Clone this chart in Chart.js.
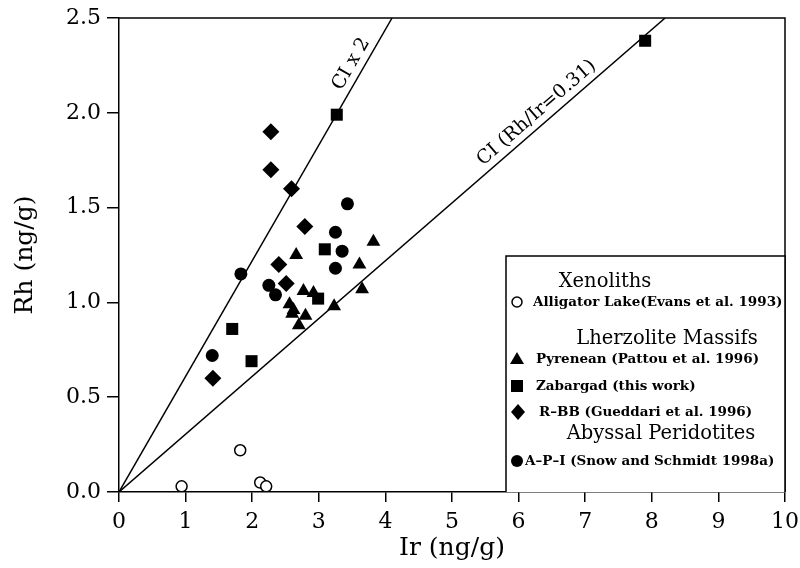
<!DOCTYPE html>
<html>
<head>
<meta charset="utf-8">
<script src="https://cdn.jsdelivr.net/npm/chart.js@4/dist/chart.umd.min.js"></script>
<style>
html,body{margin:0;padding:0;background:#fff;}
#wrap{width:800px;height:568px;position:relative;}
</style>
</head>
<body>
<div id="wrap"><canvas id="c" width="800" height="568"></canvas></div>
<script>
// ---- data (Ir, Rh in ng/g) ----
const alligatorLake = [[0.94,0.03],[1.82,0.22],[2.12,0.05],[2.21,0.03]];
const pyrenean = [[2.66,1.25],[3.82,1.32],[3.61,1.20],[3.65,1.07],[2.77,1.06],[2.92,1.05],[3.23,0.98],[2.56,0.99],[2.60,0.94],[2.62,0.96],[2.80,0.93],[2.70,0.88]];
const zabargad = [[1.70,0.86],[1.99,0.69],[2.99,1.02],[3.09,1.28],[3.27,1.99],[7.90,2.38]];
const rbb = [[1.41,0.60],[2.28,1.90],[2.28,1.70],[2.59,1.60],[2.79,1.40],[2.40,1.20],[2.51,1.10]];
const api = [[1.40,0.72],[1.83,1.15],[2.25,1.09],[2.35,1.04],[3.25,1.18],[3.35,1.27],[3.25,1.37],[3.43,1.52]];
const ciLine = [[0,0],[8.2,2.5]];
const ci2Line = [[0,0],[4.1,2.5]];
const xTicks = [0,1,2,3,4,5,6,7,8,9,10];
const yTicks = [0.0,0.5,1.0,1.5,2.0,2.5];
const xTitle = 'Ir (ng/g)';
const yTitle = 'Rh (ng/g)';
const ciLabel = 'CI (Rh/Ir=0.31)';
const ci2Label = 'CI x 2';
const legendHeads = ['Xenoliths','Lherzolite Massifs','Abyssal Peridotites'];
const legendNames = ['Alligator Lake(Evans et al. 1993)','Pyrenean (Pattou et al. 1996)','Zabargad (this work)','R\u2013BB (Gueddari et al. 1996)','A\u2013P\u2013I (Snow and Schmidt 1998a)'];

const toXY = a => a.map(p => ({x:p[0], y:p[1]}));
const SERIF = "'DejaVu Serif', 'Liberation Serif', serif";

function drawMarker(ctx, kind, x, y) {
  ctx.save();
  ctx.fillStyle = '#000'; ctx.strokeStyle = '#000';
  ctx.beginPath();
  if (kind === 'open') { ctx.lineWidth = 1.5; ctx.arc(x, y, 5, 0, Math.PI*2); ctx.stroke(); }
  else if (kind === 'circle') { ctx.arc(x, y, 6, 0, Math.PI*2); ctx.fill(); }
  else if (kind === 'tri') { ctx.moveTo(x, y-7); ctx.lineTo(x+7, y+5); ctx.lineTo(x-7, y+5); ctx.closePath(); ctx.fill(); }
  else if (kind === 'rect') { ctx.rect(x-6, y-6, 12, 12); ctx.fill(); }
  else if (kind === 'dia') { ctx.moveTo(x, y-8); ctx.lineTo(x+7, y); ctx.lineTo(x, y+8); ctx.lineTo(x-7, y); ctx.closePath(); ctx.fill(); }
  ctx.restore();
}

const decorPlugin = {
  id: 'decor',
  afterDatasetsDraw(chart) {
    const {ctx, chartArea: a, scales: {x, y}} = chart;
    ctx.save();
    // frame top & right
    ctx.strokeStyle = '#000'; ctx.lineWidth = 1.5;
    ctx.beginPath();
    ctx.moveTo(a.left, a.top); ctx.lineTo(a.right, a.top); ctx.lineTo(a.right, a.bottom);
    ctx.stroke();
    // line labels
    function lineLabel(line, t, text, off) {
      const x0 = x.getPixelForValue(line[0][0]), y0 = y.getPixelForValue(line[0][1]);
      const x1 = x.getPixelForValue(line[1][0]), y1 = y.getPixelForValue(line[1][1]);
      const ang = Math.atan2(y1 - y0, x1 - x0);
      const px = x0 + (x1 - x0) * t, py = y0 + (y1 - y0) * t;
      ctx.save();
      ctx.translate(px, py); ctx.rotate(ang);
      ctx.font = '19px ' + SERIF; ctx.fillStyle = '#000';
      ctx.textAlign = 'center'; ctx.textBaseline = 'bottom';
      ctx.fillText(text, 0, -off);
      ctx.restore();
    }
    lineLabel(ci2Line, 0.89, ci2Label, 3);
    lineLabel(ciLine, 0.78, ciLabel, 3);
    // legend box
    const L = 506, T = 256, R = a.right, B = a.bottom;
    ctx.fillStyle = '#fff';
    ctx.fillRect(L, T, R - L, B - T);
    ctx.strokeStyle = '#000'; ctx.lineWidth = 1.5;
    ctx.beginPath(); ctx.moveTo(L, B); ctx.lineTo(L, T); ctx.lineTo(R, T); ctx.lineTo(R, B); ctx.stroke();
    ctx.fillStyle = '#000'; ctx.textBaseline = 'middle';
    ctx.font = '19.5px ' + SERIF; ctx.textAlign = 'center';
    ctx.fillText(legendHeads[0], 605, 282);
    ctx.fillText(legendHeads[1], 667, 339);
    ctx.fillText(legendHeads[2], 661, 434);
    ctx.font = 'bold 13.5px ' + SERIF; ctx.textAlign = 'left';
    drawMarker(ctx, 'open', 517, 302); ctx.fillText(legendNames[0], 533, 302);
    drawMarker(ctx, 'tri', 517, 359); ctx.fillText(legendNames[1], 536, 359);
    drawMarker(ctx, 'rect', 517, 386); ctx.fillText(legendNames[2], 536, 386);
    drawMarker(ctx, 'dia', 518, 412); ctx.fillText(legendNames[3], 539, 412);
    drawMarker(ctx, 'circle', 517, 461); ctx.fillText(legendNames[4], 525, 461);
    ctx.restore();
  }
};

const common = {showLine:false, borderColor:'#000', backgroundColor:'#000', pointBorderColor:'#000', pointBackgroundColor:'#000'};

new Chart(document.getElementById('c'), {
  type: 'scatter',
  data: {
    datasets: [
      Object.assign({}, common, {label: legendNames[0], data: toXY(alligatorLake), pointStyle:'circle', pointRadius:5.5, pointBackgroundColor:'#fff', pointBorderWidth:1.5, order:1}),
      Object.assign({}, common, {label: legendNames[1], data: toXY(pyrenean), pointStyle:'triangle', pointRadius:8, pointBorderWidth:0, order:1}),
      Object.assign({}, common, {label: legendNames[2], data: toXY(zabargad), pointStyle:'rect', pointRadius:8.5, pointBorderWidth:0, order:1}),
      Object.assign({}, common, {label: legendNames[3], data: toXY(rbb), pointStyle:'rectRot', pointRadius:8.5, pointBorderWidth:0, order:1}),
      Object.assign({}, common, {label: legendNames[4], data: toXY(api), pointStyle:'circle', pointRadius:6.5, pointBorderWidth:0, order:1}),
      {label: ciLabel, data: toXY(ciLine), showLine:true, pointRadius:0, borderColor:'#000', borderWidth:1.5, order:5},
      {label: ci2Label, data: toXY(ci2Line), showLine:true, pointRadius:0, borderColor:'#000', borderWidth:1.5, order:5}
    ]
  },
  options: {
    responsive: false,
    animation: false,
    events: [],
    layout: {padding: {left:0, top:18, right:15, bottom:0}},
    plugins: {legend: {display:false}, tooltip: {enabled:false}},
    scales: {
      x: {
        type: 'linear', min: 0, max: 10,
        afterBuildTicks: s => { s.ticks = xTicks.map(v => ({value:v})); },
        afterFit: s => { s.height = 76; s.paddingLeft = 0; s.paddingRight = 0; },
        ticks: {color:'#000', font:{family:SERIF, size:22}, padding:7, callback: v => String(v)},
        grid: {drawOnChartArea:false, drawTicks:true, tickLength:10, color:'#000', lineWidth:1.5},
        border: {display:true, color:'#000', width:1.5},
        title: {display:true, text:xTitle, color:'#000', font:{family:SERIF, size:25}, padding:{top:0, bottom:5}}
      },
      y: {
        type: 'linear', min: 0, max: 2.5,
        afterBuildTicks: s => { s.ticks = yTicks.map(v => ({value:v})); },
        afterFit: s => { s.width = 119; s.paddingTop = 0; s.paddingBottom = 0; },
        ticks: {color:'#000', font:{family:SERIF, size:22}, padding:6, callback: v => Number(v).toFixed(1)},
        grid: {drawOnChartArea:false, drawTicks:true, tickLength:12, color:'#000', lineWidth:1.5},
        border: {display:true, color:'#000', width:1.5},
        title: {display:true, text:yTitle, color:'#000', font:{family:SERIF, size:25}, padding:{top:10, bottom:0}}
      }
    }
  },
  plugins: [decorPlugin]
});
</script>
</body>
</html>
